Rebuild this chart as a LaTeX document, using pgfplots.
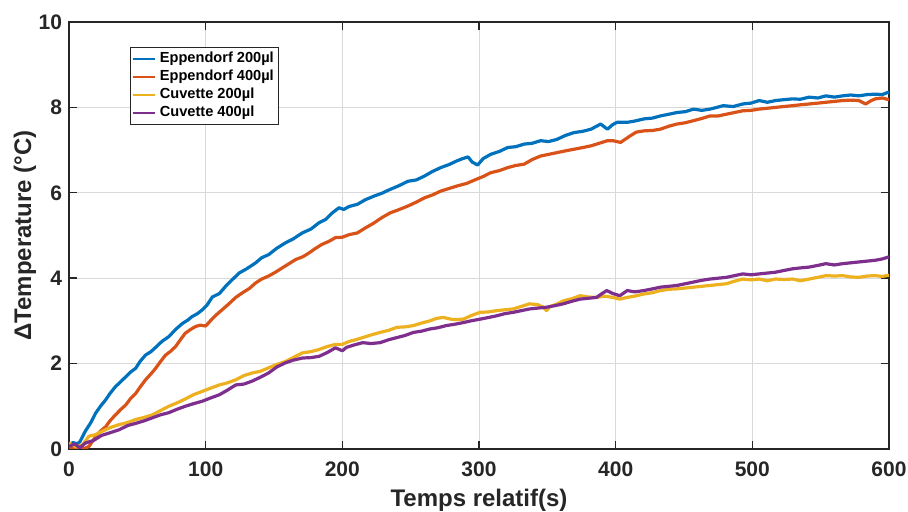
\documentclass[border=0pt]{standalone}
\usepackage{fontspec}
\setmainfont{Liberation Sans}
\usepackage{pgfplots}
\pgfplotsset{compat=1.18}
\definecolor{mblue}{rgb}{0,0.447,0.741}
\definecolor{morange}{rgb}{0.85,0.325,0.098}
\definecolor{myellow}{rgb}{0.929,0.694,0.125}
\definecolor{mpurple}{rgb}{0.494,0.184,0.556}
\definecolor{axgray}{RGB}{38,38,38}
\begin{document}
\begin{tikzpicture}
\begin{axis}[
  at={(0,0)}, anchor=south west,
  scale only axis, width=410pt, height=213.5pt,
  xmin=0, xmax=600, ymin=0, ymax=10,
  xtick={0,100,...,600}, ytick={0,2,...,10},
  tick align=inside, tick pos=both, major tick length=4pt,
  axis line style={axgray, line width=0.7pt},
  every tick/.style={axgray, line width=0.7pt},
  grid=major, major grid style={gray!30, line width=0.5pt},
  /pgf/number format/assume math mode=true,
  tick label style={font=\bfseries\fontsize{10.5}{12}\selectfont, text=axgray},
  xticklabel style={yshift=-3pt},
  xlabel={Temps relatif(s)}, ylabel={ΔTemperature (°C)},
  label style={font=\bfseries\fontsize{12}{14}\selectfont, text=axgray},
  xlabel style={at={(axis description cs:0.5,-0.1194)}, anchor=center},
  ylabel style={at={(axis description cs:-0.0537,0.5)}, anchor=center},
  legend style={at={(axis description cs:0.0744,0.942)}, anchor=north west,
    font=\bfseries\fontsize{7.3}{8.6}\selectfont, draw=axgray, line width=0.5pt,
    inner xsep=0.5pt, inner ysep=0.5pt, row sep=-1.8pt, cells={anchor=west}},
  legend image code/.code={\draw[#1, line width=1.2pt] (0pt,0pt) -- (11pt,0pt);},
  every axis plot/.append style={line width=1.6pt, line join=round},
]
\addplot[mblue] coordinates {
(0,0.10)(3,0.15)(6,0.12)(8,0.17)(12,0.42)(16,0.62)(19.5,0.84)(23,1.00)(26.8,1.15)(30,1.30)
(34,1.46)(37,1.55)(41.5,1.69)(45,1.80)(48.8,1.89)(52,2.05)(56,2.20)(60,2.28)(63.4,2.38)(68,2.52)
(73,2.63)(78,2.80)(83,2.94)(87,3.02)(90,3.10)(94,3.17)(97.6,3.26)(101,3.37)(104.9,3.56)(110,3.64)
(114.6,3.81)(119,3.95)(124.4,4.12)(130,4.22)(136.6,4.36)(141,4.48)(146,4.55)(152,4.70)(158.5,4.83)(164,4.92)
(170.7,5.06)(177,5.15)(183,5.30)(188,5.38)(192.7,5.53)(197.6,5.65)(201,5.61)(205,5.68)(211,5.73)(217,5.84)
(223,5.92)(229,5.99)(235,6.08)(241,6.16)(248,6.27)(254,6.30)(260,6.39)(266,6.50)(272,6.59)(278,6.66)
(284,6.75)(288,6.80)(292,6.84)(295,6.72)(299,6.65)(303,6.80)(308.5,6.90)(315,6.97)(321,7.06)(327,7.08)
(333,7.14)(339,7.16)(345,7.22)(351,7.20)(357,7.25)(363,7.34)(369.5,7.41)(376,7.44)(382,7.49)(389,7.61)
(394,7.49)(398,7.60)(401,7.65)(408.5,7.65)(414,7.68)(420.6,7.73)(427,7.75)(432.7,7.80)(439,7.84)(444.8,7.88)
(451,7.90)(457,7.96)(463,7.93)(469,7.96)(474,8.00)(478.7,8.04)(486,8.02)(493,8.08)(499,8.10)(505,8.16)
(511,8.12)(517,8.16)(523,8.18)(529.5,8.20)(535,8.19)(541.6,8.24)(548,8.22)(553.8,8.27)(560,8.24)(566,8.27)
(572,8.29)(578,8.27)(584,8.30)(590,8.31)(595,8.30)(600,8.36)
};
\addlegendentry{Eppendorf 200µl}
\addplot[morange] coordinates {
(0,0.05)(4,0.02)(8,0.00)(12,0.02)(14.6,0.06)(19.5,0.29)(23,0.42)(26.8,0.52)(30,0.66)(34,0.80)
(38,0.93)(41.5,1.03)(45,1.18)(48.8,1.30)(52,1.45)(56,1.62)(60,1.76)(63.4,1.89)(67,2.05)(70.7,2.20)
(74,2.28)(78,2.40)(82,2.58)(85,2.71)(89,2.80)(92.7,2.87)(96,2.90)(100,2.88)(104,3.02)(107,3.12)
(112,3.26)(117,3.40)(122,3.55)(127,3.66)(132,3.76)(136.6,3.89)(141,3.98)(146,4.05)(151,4.14)(156,4.24)
(161,4.34)(166,4.44)(171,4.50)(175.6,4.59)(180,4.69)(185,4.79)(190,4.86)(195,4.95)(200,4.96)(205,5.02)
(211,5.06)(217,5.18)(223,5.29)(229,5.42)(235,5.53)(241,5.60)(248,5.69)(254,5.78)(260,5.88)(266,5.95)
(272,6.04)(278,6.10)(284,6.16)(291,6.22)(297.6,6.31)(303,6.38)(308.5,6.47)(315,6.52)(321,6.59)(327,6.64)
(333,6.67)(339,6.78)(345,6.86)(351,6.90)(357,6.94)(363,6.98)(369.5,7.02)(376,7.06)(382,7.10)(388,7.16)
(394,7.22)(398,7.22)(403.6,7.18)(410,7.32)(415,7.42)(420.6,7.45)(427,7.46)(432.7,7.49)(439,7.56)(444.8,7.61)
(451,7.64)(457,7.69)(463,7.74)(469,7.80)(475,7.80)(481,7.84)(487,7.88)(493,7.92)(499,7.93)(505,7.96)
(511,7.98)(517,8.00)(523,8.02)(529.5,8.04)(535,8.06)(541.6,8.08)(548,8.10)(553.8,8.12)(560,8.14)(566,8.16)
(572,8.17)(578,8.16)(583,8.08)(587,8.16)(590,8.20)(595,8.22)(600,8.18)
};
\addlegendentry{Eppendorf 400µl}
\addplot[myellow] coordinates {
(0,0.14)(5,0.05)(10,0.10)(14.6,0.30)(19,0.33)(24,0.41)(30,0.50)(36.6,0.57)(43,0.62)(48.8,0.69)
(55,0.74)(61,0.80)(67,0.90)(73,1.00)(79,1.08)(85,1.17)(91,1.27)(97.6,1.35)(104,1.43)(110,1.50)
(116,1.55)(122,1.62)(128,1.72)(134,1.78)(140,1.82)(146,1.90)(152,1.98)(158.5,2.05)(164,2.14)(170.7,2.25)
(177,2.28)(183,2.33)(189,2.40)(195,2.45)(200,2.45)(205,2.52)(210,2.56)(215,2.61)(221,2.67)(227.6,2.73)
(234,2.78)(240,2.85)(246,2.86)(252,2.89)(258,2.95)(264,3.00)(269,3.06)(274,3.08)(281,3.03)(288.5,3.04)
(294,3.12)(300.7,3.20)(307,3.21)(313,3.24)(319,3.26)(325,3.28)(331,3.34)(337,3.40)(343,3.38)(347,3.32)
(349.5,3.24)(352,3.34)(356,3.38)(361.7,3.47)(368,3.52)(374,3.59)(380,3.56)(386,3.55)(392,3.58)(398,3.55)
(403,3.51)(408.5,3.55)(414,3.58)(420.6,3.63)(427,3.66)(432.7,3.71)(439,3.74)(444.8,3.75)(451,3.77)(457,3.79)
(463,3.81)(469,3.83)(475,3.85)(481,3.87)(487,3.93)(493,3.98)(499,3.96)(505,3.98)(511,3.94)(517,3.98)
(523,3.97)(529.5,3.98)(535,3.94)(541.6,3.98)(548,4.02)(553.8,4.06)(560,4.05)(566,4.06)(572,4.03)(578,4.02)
(584,4.05)(590,4.06)(595,4.04)(600,4.07)
};
\addlegendentry{Cuvette 200µl}
\addplot[mpurple] coordinates {
(0,0.06)(4,0.12)(8,0.03)(12,0.14)(18,0.20)(24,0.32)(30,0.38)(36.6,0.45)(43,0.55)(48.8,0.60)
(55,0.66)(61,0.73)(67,0.80)(73,0.85)(79,0.93)(85,1.00)(91,1.06)(97.6,1.12)(104,1.20)(110,1.27)
(116,1.38)(122,1.50)(128,1.52)(134,1.59)(140,1.68)(146,1.78)(152,1.92)(158.5,2.02)(164,2.08)(170.7,2.13)
(177,2.14)(183,2.17)(189,2.26)(195,2.37)(200,2.30)(203,2.38)(209,2.44)(215,2.49)(221,2.47)(227.6,2.49)
(234,2.56)(240,2.61)(246,2.66)(252,2.73)(258,2.76)(264,2.81)(270,2.84)(276,2.89)(282,2.92)(288.5,2.96)
(294,3.00)(300.7,3.04)(307,3.08)(313,3.12)(319,3.17)(325,3.20)(331,3.24)(337,3.28)(343,3.30)(349.5,3.32)
(356,3.36)(361.7,3.40)(368,3.46)(374,3.51)(380,3.53)(386,3.55)(390,3.64)(393.5,3.71)(398,3.64)(403,3.59)
(408.5,3.71)(414,3.68)(420.6,3.71)(427,3.75)(432.7,3.79)(439,3.81)(444.8,3.83)(451,3.87)(457,3.91)(463,3.95)
(469,3.98)(475,4.00)(481,4.02)(487,4.06)(493,4.10)(499,4.08)(505,4.10)(511,4.12)(517,4.14)(523,4.18)
(529.5,4.22)(535,4.24)(541.6,4.26)(548,4.30)(553.8,4.34)(560,4.31)(566,4.34)(572,4.36)(578,4.38)(584,4.40)
(590,4.42)(595,4.45)(600,4.50)
};
\addlegendentry{Cuvette 400µl}
\end{axis}
\pgfresetboundingbox
\path (-34.5pt,-31.5pt) rectangle (419.5pt,224.5pt);
\end{tikzpicture}
\end{document}
